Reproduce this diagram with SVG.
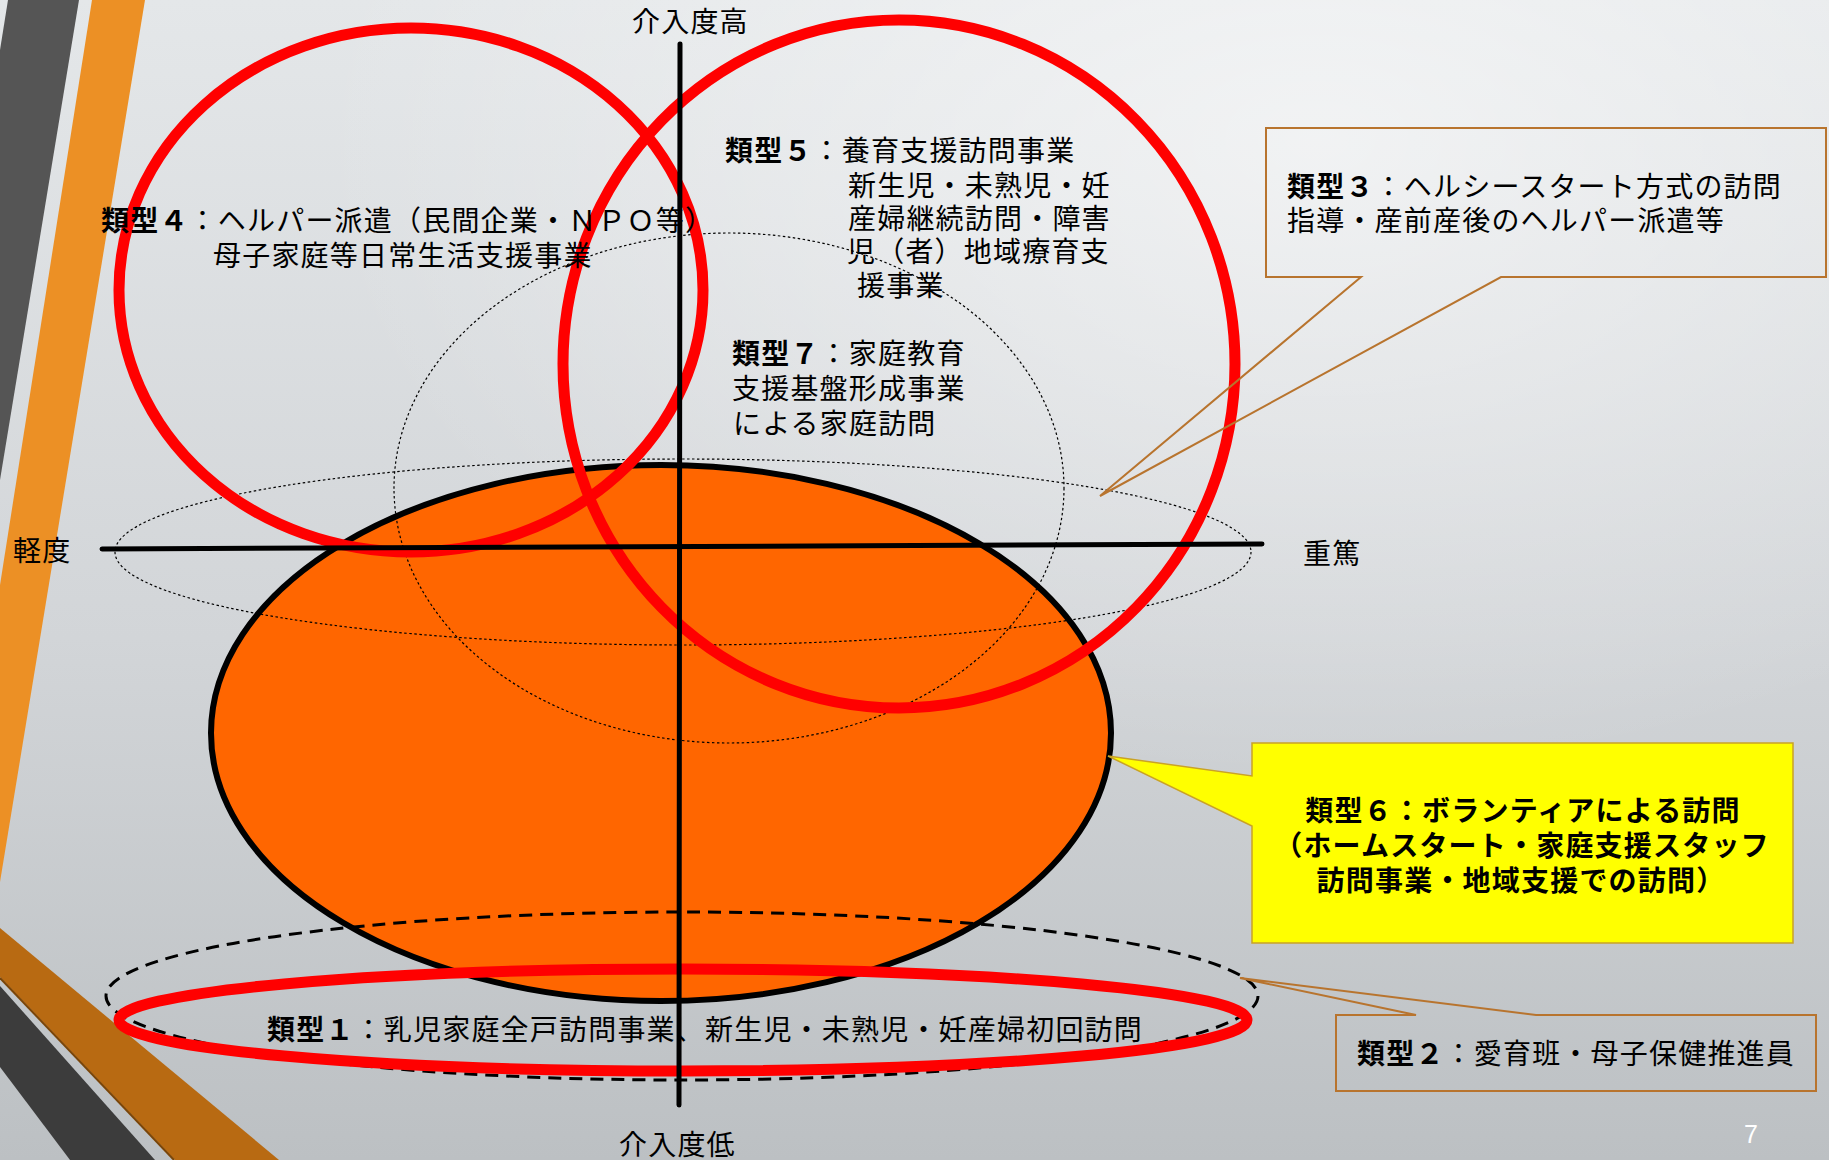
<svg xmlns="http://www.w3.org/2000/svg" width="1829" height="1160" viewBox="0 0 1829 1160">
<defs>
<linearGradient id="bg" x1="0" y1="0" x2="0" y2="1">
<stop offset="0" stop-color="#e4e7e9"/>
<stop offset="0.55" stop-color="#d2d5d8"/>
<stop offset="1" stop-color="#bcc0c3"/>
</linearGradient>
<radialGradient id="hl" cx="0.72" cy="0.12" r="0.55">
<stop offset="0" stop-color="#ffffff" stop-opacity="0.55"/>
<stop offset="1" stop-color="#ffffff" stop-opacity="0"/>
</radialGradient>
</defs>
<style>
text{font-family:'Noto Sans CJK JP','Noto Sans',sans-serif;font-size:28px;letter-spacing:1.2px;fill:#000}
.b{font-weight:bold}
.red{fill:none;stroke:#ff0000;stroke-width:11}
.dot{fill:none;stroke:#000;stroke-width:1.2;stroke-dasharray:2.5 2.5}
.dash{fill:none;stroke:#000;stroke-width:3;stroke-dasharray:13 8}
.axis{stroke:#000;stroke-width:5;stroke-linecap:round}
.callout{fill:none;stroke:#b8742e;stroke-width:2}
</style>
<g id="background">
<rect x="0" y="0" width="1829" height="1160" fill="url(#bg)"/>
<rect x="0" y="0" width="1829" height="1160" fill="url(#hl)"/>
<polygon points="8,0 79,0 0,480 0,50" fill="#555555"/>
<polygon points="92,0 145,0 0,882 0,585" fill="#ec9025"/>
<polygon points="0,928 279,1160 175,1160 0,977" fill="#b86a12"/>
<line x1="0" y1="978" x2="174" y2="1160" stroke="#7a4508" stroke-width="2"/>
<polygon points="0,986 155,1160 70,1160 0,1067" fill="#3c3c3c"/>
</g>
<g id="node-type6-region">
<ellipse cx="661" cy="733" rx="450" ry="268" fill="#ff6600" stroke="#000" stroke-width="6"/>
</g>
<g id="node-type3-region">
<ellipse cx="683" cy="552" rx="568" ry="93" class="dot"/>
</g>
<g id="node-type7-region">
<ellipse cx="729" cy="488" rx="335" ry="255" class="dot"/>
</g>
<g id="node-type4-region">
<ellipse cx="411" cy="290" rx="292" ry="262" class="red"/>
</g>
<g id="node-type5-region">
<ellipse cx="899" cy="364" rx="336" ry="344" class="red"/>
</g>
<g id="node-type2-region">
<ellipse cx="682" cy="996" rx="576" ry="84" class="dash"/>
</g>
<g id="node-type1-region">
<ellipse cx="683" cy="1020" rx="564" ry="51" class="red"/>
</g>
<g id="connectors">
<line class="axis" x1="680" y1="44" x2="679" y2="1105"/>
<line class="axis" x1="102" y1="549" x2="1262" y2="544"/>
</g>
<g id="node-type3">
<path class="callout" d="M1266,128 H1826 V277 H1501 L1100,496 L1361,277 H1266 Z"/>
<text x="1287" y="197"><tspan class="b">類型３</tspan>：ヘルシースタート方式の訪問<tspan x="1287" y="231">指導・産前産後のヘルパー派遣等</tspan></text>
</g>
<g id="node-type6">
<path d="M1252,743 H1793 V943 H1252 V826 L1108,756 L1252,776 Z" fill="#ffff00" stroke="#c9a227" stroke-width="1.5"/>
<text class="b" text-anchor="middle"><tspan x="1523" y="821">類型６：ボランティアによる訪問</tspan><tspan x="1522" y="856">（ホームスタート・家庭支援スタッフ</tspan><tspan x="1521" y="891">訪問事業・地域支援での訪問）</tspan></text>
</g>
<g id="node-type2">
<path class="callout" d="M1336,1015 H1416 L1240,978 L1536,1015 H1816 V1091 H1336 Z"/>
<text x="1357" y="1064"><tspan class="b">類型２</tspan>：愛育班・母子保健推進員</text>
</g>
<g id="node-type4">
<text x="101" y="231"><tspan class="b">類型４</tspan>：ヘルパー派遣（民間企業・ＮＰＯ等）<tspan x="213" y="266">母子家庭等日常生活支援事業</tspan></text>
</g>
<g id="node-type5">
<text x="725" y="161"><tspan class="b">類型５</tspan>：養育支援訪問事業<tspan x="848" y="196">新生児・未熟児・妊</tspan><tspan x="848" y="229">産婦継続訪問・障害</tspan><tspan x="847" y="262">児（者）地域療育支</tspan><tspan x="857" y="296">援事業</tspan></text>
</g>
<g id="node-type7">
<text x="732" y="364"><tspan class="b">類型７</tspan>：家庭教育<tspan x="732" y="399">支援基盤形成事業</tspan><tspan x="733" y="434">による家庭訪問</tspan></text>
</g>
<g id="node-type1">
<text x="267" y="1040"><tspan class="b">類型１</tspan>：乳児家庭全戸訪問事業、新生児・未熟児・妊産婦初回訪問</text>
</g>
<g id="axis-labels">
<text x="632" y="32">介入度高</text>
<text x="619" y="1155">介入度低</text>
<text x="13" y="561">軽度</text>
<text x="1303" y="564">重篤</text>
</g>
<text x="1744" y="1143" style="font-family:'Liberation Sans',sans-serif;font-size:25px;fill:#ffffff;letter-spacing:0">7</text>
</svg>
